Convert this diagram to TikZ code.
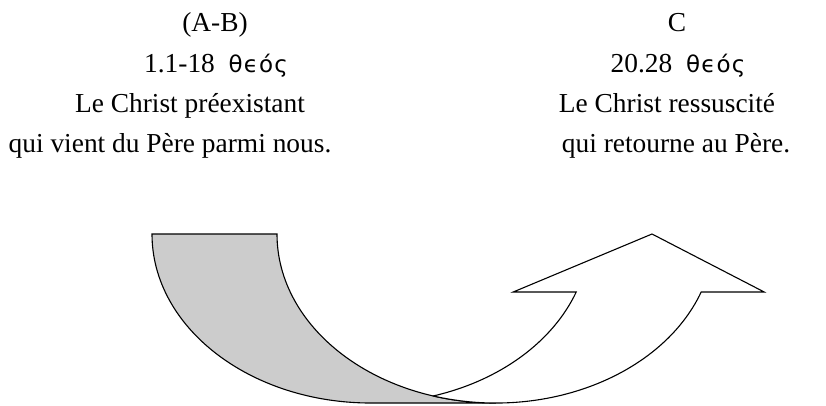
\documentclass[tikz,border=0pt]{standalone}
\usepackage{fontspec}
\setmainfont{Liberation Serif}
\newfontfamily\greekfont[LetterSpace=5]{DejaVu Sans}
\usetikzlibrary{calc}

\newcommand{\theos}{{\greekfont\fontsize{23}{26}\selectfont θϵός}}

\begin{document}
\begin{tikzpicture}[
    x=1pt, y=1pt,
    every node/.style={font=\fontsize{27.4}{32}\selectfont, inner sep=0pt, anchor=base},
    backband/.style={fill=black!20, draw=black, line width=1.1pt, line join=miter},
    frontarrow/.style={fill=white, draw=black, line width=1.1pt, line join=miter},
    ell/.style={x radius=218.75, y radius=169}
]
\useasboundingbox (0,0) rectangle (826,-405);

% Left column
\node (ab) at (215,-31) {(A-B)};
\node (refab) at (216,-72) {1.1-18\hspace{0.5em}\theos};
\node (preex) at (190,-112) {Le Christ préexistant};
\node (vient) at (170,-152) {qui vient du Père parmi nous.};

% Right column
\node (c) at (677,-31) {C};
\node (refc) at (678,-72) {20.28\hspace{0.5em}\theos};
\node (ress) at (667,-112) {Le Christ ressuscité};
\node (retour) at (676,-152) {qui retourne au Père.};

% Back of the band (grey)
\path[backband] (152,-234) arc[ell, start angle=180, end angle=270]
    -- (495.75,-403) arc[ell, start angle=270, end angle=180] -- cycle;

% Front of the band with the head
\path[frontarrow] (433.25,-395.95) arc[ell, start angle=286.6, end angle=339.93]
    -- (513.2,-292) -- (652,-234) -- (764.2,-292) -- (701.2,-292)
    arc[ell, start angle=339.93, end angle=253.4] -- cycle;

\end{tikzpicture}
\end{document}
